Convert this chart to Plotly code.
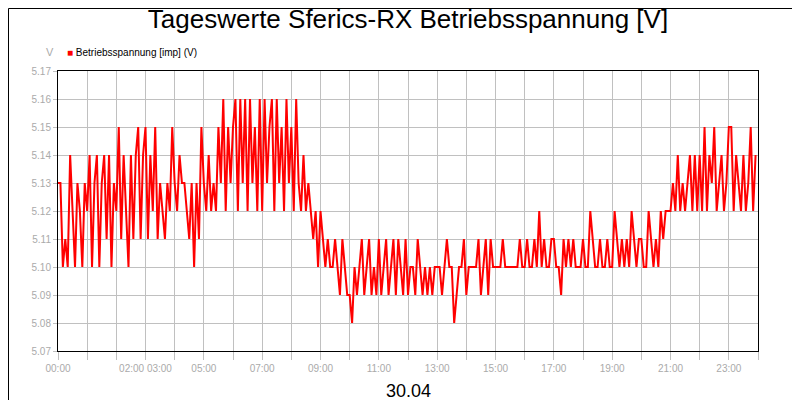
import plotly.graph_objects as go

# Werte in 1/100 V oberhalb 5.00 V, ein Wert je 5 Minuten (12 pro Stunde)
hour_values = [
    [13, 13, 10, 11, 10, 14, 12, 10, 13, 12, 10, 13],  # 00
    [12, 14, 10, 13, 14, 10, 13, 14, 11, 14, 10, 13],  # 01
    [12, 15, 11, 14, 12, 10, 14, 11, 14, 15, 11, 14],  # 02
    [15, 11, 14, 12, 15, 11, 13, 12, 11, 13, 12, 15],  # 03
    [13, 12, 14, 13, 13, 12, 11, 13, 10, 13, 11, 15],  # 04
    [13, 12, 14, 12, 13, 12, 15, 13, 16, 12, 15, 13],  # 05
    [15, 16, 12, 16, 13, 16, 12, 16, 13, 15, 12, 16],  # 06
    [12, 16, 13, 15, 16, 12, 16, 13, 15, 12, 16, 13],  # 07
    [15, 12, 16, 13, 12, 14, 12, 13, 12, 11, 12, 10],  # 08
    [12, 11, 10, 11, 10, 10, 11, 10, 9, 11, 10, 9],    # 09
    [9, 8, 10, 9, 10, 11, 9, 10, 11, 9, 10, 9],        # 10
    [11, 9, 10, 11, 9, 10, 11, 9, 11, 10, 9, 11],      # 11
    [9, 10, 10, 9, 11, 10, 9, 10, 9, 10, 9, 10],       # 12
    [10, 10, 9, 10, 11, 10, 10, 8, 9, 10, 10, 11],     # 13
    [9, 10, 10, 10, 10, 11, 9, 10, 11, 9, 11, 10],     # 14
    [10, 10, 10, 11, 10, 10, 10, 10, 10, 10, 11, 10],  # 15
    [10, 11, 10, 10, 11, 10, 12, 10, 11, 10, 10, 11],  # 16
    [11, 10, 10, 9, 11, 10, 11, 10, 11, 10, 10, 10],   # 17
    [11, 10, 10, 12, 11, 10, 10, 11, 10, 10, 11, 10],  # 18
    [10, 12, 11, 10, 11, 10, 11, 10, 12, 11, 10, 11],  # 19
    [11, 10, 10, 12, 11, 10, 11, 10, 12, 11, 12, 12],  # 20
    [12, 13, 12, 14, 12, 13, 12, 13, 14, 12, 14, 12],  # 21
    [14, 12, 15, 12, 14, 13, 15, 12, 13, 14, 12, 13],  # 22
    [15, 15, 12, 14, 13, 12, 14, 12, 13, 15, 12, 14],  # 23
]

hundredths = [v for hv in hour_values for v in hv]
volts = [5.0 + v / 100 for v in hundredths]
hours = [i / 12 for i in range(len(volts))]

tick_hours = list(range(25))
tick_labels = ["00:00", "", "", "02:00 03:00", "", "05:00", "", "07:00", "", "09:00", "",
               "11:00", "", "13:00", "", "15:00", "", "17:00", "", "19:00", "", "21:00",
               "", "23:00", ""]

fig = go.Figure()
fig.add_trace(go.Scatter(x=hours, y=volts, mode="lines", name="Betriebsspannung [imp] (V)",
                         line=dict(color="#ff0000", width=2), showlegend=False))

fig.update_layout(
    width=800, height=400,
    paper_bgcolor="white", plot_bgcolor="white",
    margin=dict(l=50, r=50, t=63, b=57, autoexpand=False),
    font=dict(family="Liberation Sans, Arial", color="black"),
    title=dict(text="Tageswerte Sferics-RX Betriebsspannung [V]", x=0.5, y=0.995,
               xanchor="center", yanchor="top", font=dict(size=26)),
    shapes=[dict(type="rect", xref="paper", yref="paper", x0=-49.5 / 700, x1=1 + 49.5 / 700,
                 y0=-56.5 / 280, y1=1 + 62.5 / 280, line=dict(color="black", width=1))],
    annotations=[
        dict(text="V", xref="paper", yref="paper", x=-0.003, y=1.04, showarrow=False,
             font=dict(size=11, color="#aaaaaa"), xanchor="right", yanchor="bottom"),
        dict(text="<span style='color:#ff0000'>■</span> Betriebsspannung [imp] (V)",
             xref="paper", yref="paper", x=0.01, y=1.04, showarrow=False,
             font=dict(size=10), xanchor="left", yanchor="bottom"),
        dict(text="30.04", xref="paper", yref="paper", x=0.5, y=-0.1, showarrow=False,
             font=dict(size=18), xanchor="center", yanchor="top"),
    ],
)
fig.update_xaxes(range=[0, 24], tickvals=tick_hours, ticktext=tick_labels,
                 showgrid=True, gridcolor="#c0c0c0", showline=True, linecolor="black",
                 mirror=True, ticks="outside", tickcolor="#c0c0c0", ticklen=8,
                 tickfont=dict(size=10, color="#aaaaaa"), zeroline=False)
fig.update_yaxes(range=[5.07, 5.17], dtick=0.01, tickformat=".2f",
                 showgrid=True, gridcolor="#c0c0c0", showline=True, linecolor="black",
                 mirror=True, ticks="outside", tickcolor="#c0c0c0", ticklen=4,
                 tickfont=dict(size=10, color="#aaaaaa"), zeroline=False)

fig.write_html("out.html")
